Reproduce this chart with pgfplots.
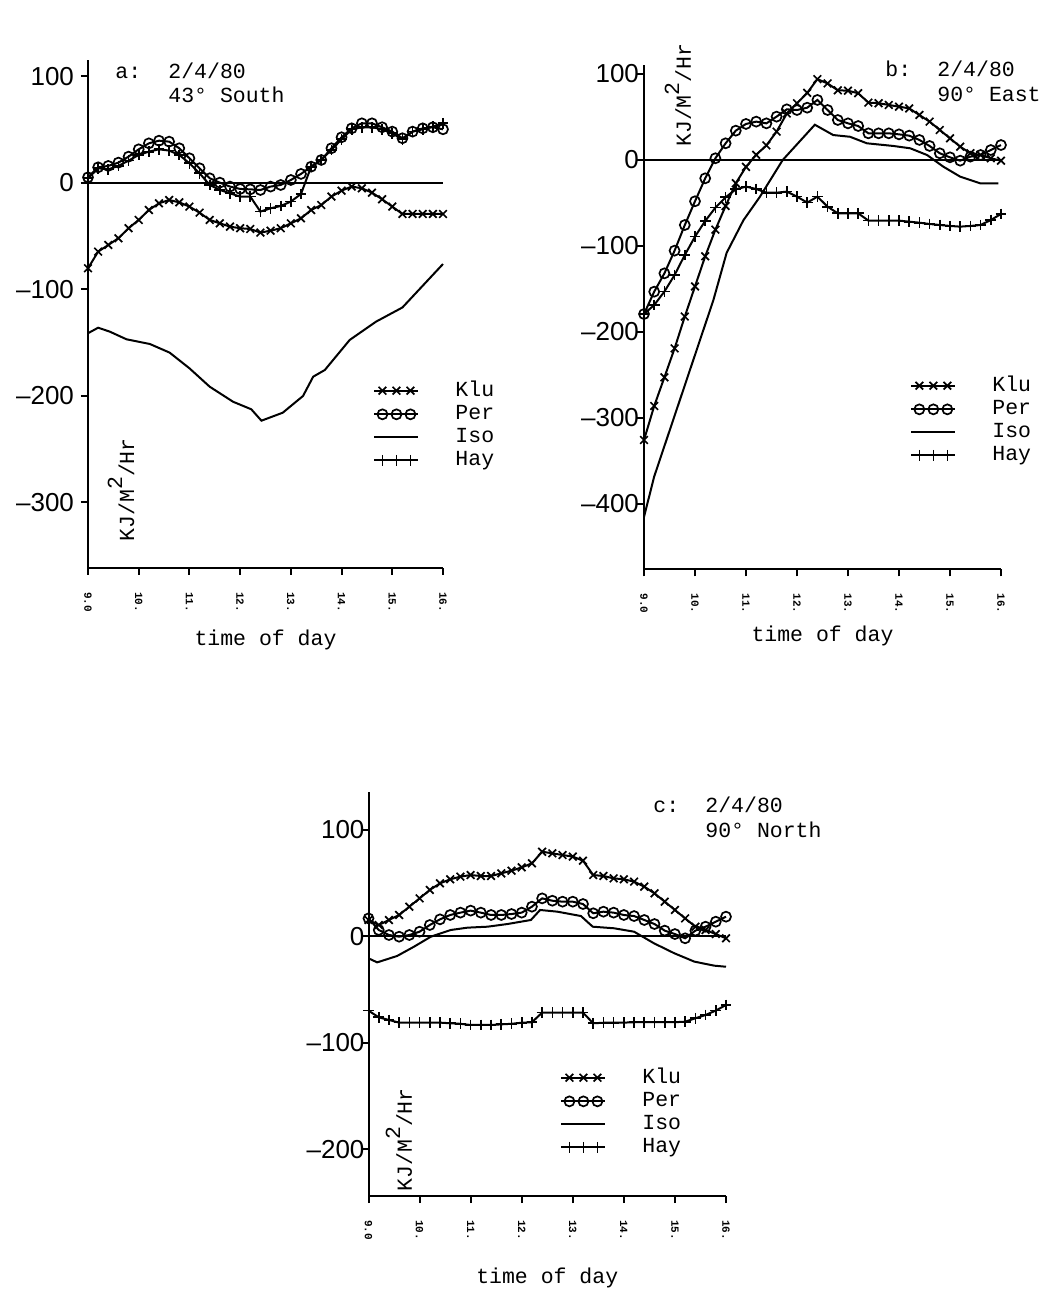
\documentclass[border=0pt]{standalone}
\usepackage{pgfplots}
\pgfplotsset{compat=1.18}
\usepackage{pgfplotstable}
\usepackage{fontspec}
\setmainfont{Liberation Mono}
\newfontfamily\sansf{Liberation Sans}
\newfontfamily\monof{Liberation Mono}

\pgfplotstableread{
t klu per hay
9.0 -80.1 5.3 4.4
9.2 -64.5 14.7 13.8
9.4 -58.2 16.0 12.8
9.6 -51.9 19.1 16.0
9.8 -42.5 24.7 21.0
10.0 -34.7 31.6 26.3
10.2 -25.4 37.2 29.4
10.4 -19.1 39.7 31.6
10.6 -16.0 38.8 30.4
10.8 -18.2 32.6 26.3
11.0 -22.2 23.2 18.5
11.2 -27.9 13.8 9.1
11.4 -34.7 4.4 -1.9
11.6 -37.9 0.3 -6.6
11.8 -41.0 -3.4 -9.7
12.0 -42.5 -5.6 -12.8
12.2 -43.2 -6.0 -12.8
12.4 -46.6 -6.6 -26.9
12.6 -44.8 -3.4 -23.8
12.8 -42.5 -1.9 -21.6
13.0 -37.9 2.8 -17.5
13.2 -33.2 8.5 -10.3
13.4 -25.4 15.3 15.3
13.6 -20.7 21.6 21.6
13.8 -12.8 32.6 31.0
14.0 -7.2 42.9 41.0
14.2 -3.4 51.3 50.4
14.4 -5.0 56.0 52.3
14.6 -9.1 56.0 52.3
14.8 -15.3 52.3 50.4
15.0 -22.2 48.2 46.6
15.2 -29.1 42.0 41.0
15.4 -29.1 48.2 48.2
15.6 -29.1 51.3 50.4
15.8 -29.1 52.3 52.9
16.0 -29.1 50.4 56.0
}\tableA

\pgfplotstableread{
t klu per hay
9.0 -325.6 -179.1 -179.1
9.2 -286.0 -153.1 -168.6
9.4 -252.7 -131.8 -153.0
9.6 -219.0 -105.4 -133.7
9.8 -182.0 -75.6 -110.5
10.0 -147.0 -48.0 -89.1
10.2 -112.0 -21.3 -70.9
10.4 -81.0 2.0 -55.4
10.6 -53.5 19.4 -43.4
10.8 -27.0 34.1 -34.1
11.0 -8.0 41.9 -31.0
11.2 6.0 44.6 -33.7
11.4 17.0 42.6 -38.0
11.6 33.0 50.4 -38.0
11.8 54.0 58.9 -36.8
12.0 66.0 58.1 -42.6
12.2 78.0 60.8 -49.6
12.4 94.0 69.8 -42.6
12.6 89.0 58.1 -54.3
12.8 81.0 46.5 -62.0
13.0 80.6 42.6 -62.0
13.2 77.6 39.5 -62.0
13.4 66.7 31.0 -70.5
13.6 66.0 31.0 -70.5
13.8 64.0 31.0 -70.5
14.0 62.0 29.8 -70.5
14.2 60.0 28.3 -71.7
14.4 52.3 23.3 -72.9
14.6 44.6 16.3 -74.4
14.8 34.9 7.8 -75.6
15.0 25.2 3.1 -76.7
15.2 15.5 -0.8 -77.5
15.4 7.8 3.9 -76.7
15.6 5.8 5.8 -75.6
15.8 2.0 11.6 -69.8
16.0 -0.8 17.4 -62.8
}\tableB

\pgfplotstableread{
t klu per hay
9.0 15.5 17.0 -69.6
9.2 10.8 6.1 -75.9
9.4 15.5 1.4 -78.4
9.6 20.2 -0.2 -80.9
9.8 28.0 1.4 -80.9
10.0 35.8 4.5 -80.9
10.2 43.7 10.8 -80.9
10.4 49.9 16.1 -80.9
10.6 53.7 20.2 -81.5
10.8 56.2 22.4 -82.0
11.0 57.7 24.3 -83.1
11.2 56.8 22.4 -83.1
11.4 56.8 20.2 -83.1
11.6 59.3 20.2 -82.5
11.8 61.8 21.1 -82.0
12.0 64.9 22.4 -81.0
12.2 68.7 28.0 -80.5
12.4 79.6 35.8 -71.5
12.6 78.1 33.6 -71.5
12.8 76.5 32.7 -71.5
13.0 75.0 32.7 -71.5
13.2 71.2 30.5 -71.5
13.4 57.7 21.8 -81.5
13.6 56.8 23.3 -81.0
13.8 54.6 22.4 -81.0
14.0 53.7 20.2 -80.9
14.2 51.5 19.2 -80.5
14.4 46.8 15.5 -80.5
14.6 40.5 11.7 -80.5
14.8 32.7 5.5 -80.5
15.0 24.9 2.3 -80.5
15.2 17.0 -1.7 -80.0
15.4 9.2 5.5 -76.8
15.6 6.1 9.2 -73.7
15.8 2.3 13.9 -69.6
16.0 -1.7 18.6 -64.3
}\tableC

\pgfplotsset{
  myaxis/.style={
    scale only axis,
    clip=false,
    axis lines*=left,
    axis line style={-, line width=1pt, black},
    xmin=9, xmax=16,
    xtick={9,10,11,12,13,14,15,16},
    xticklabels={9.0,10.,11.,12.,13.,14.,15.,16.},
    tick align=outside,
    major tick length=3.5pt,
    tick style={line width=1pt, black},
    xticklabel style={rotate=-90, anchor=west, font=\monof\bfseries\fontsize{5.5}{5.5}\selectfont},
    xticklabel shift=5pt,
    yticklabel style={font=\sansf\fontsize{13}{13}\selectfont},
    xlabel={time of day},
    ylabel={KJ/M\raisebox{0.55em}{2}/Hr},
    label style={font=\monof\fontsize{10.75}{12}\selectfont},
    legend style={draw=none, fill=none, inner sep=0pt, row sep=2.9pt, column sep=18pt,
      font=\monof\fontsize{10.75}{12}\selectfont, cells={anchor=west}, nodes={inner sep=0pt}},
    legend image code/.code={
      \draw[##1,mark=none] (0pt,0pt) -- (22pt,0pt);
      \draw[##1] plot[only marks] coordinates {(4pt,0pt) (11pt,0pt) (18pt,0pt)};
    },
  },
  zero/.style={black, line width=1pt, no marks},
  klu/.style={black, line width=1pt, mark=x, mark size=2.7pt, mark options={solid, line width=0.85pt}},
  per/.style={black, line width=1pt, mark=o, mark size=2.5pt, mark options={solid, line width=0.85pt}},
  iso/.style={black, line width=1pt, no marks},
  hay/.style={black, line width=1pt, mark=+, mark size=2.7pt, mark options={solid, line width=0.85pt}},
}

\begin{document}
\begin{tikzpicture}
\path[use as bounding box] (0,0) rectangle (531pt,650.5pt);

% ---------------- a ----------------
\begin{axis}[myaxis,
  at={(44pt,366.5pt)}, anchor=south west,
  width=177.5pt, height=253.75pt,
  ymin=-361.5, ymax=115,
  ytick={-300,-200,-100,0,100},
  yticklabels={–300,–200,–100,0,100},
  ylabel style={at={(axis description cs:0.093,0.154)}, anchor=center},
  xlabel style={at={(axis description cs:0.5,0)}, anchor=base, yshift=-39pt},
  legend style={at={(axis description cs:0.803,0.3685)}, anchor=north west},
]
\addplot[zero, forget plot] coordinates {(9,0) (16,0)};
\addplot[klu] table[x=t, y=klu] {\tableA};
\addplot[per] table[x=t, y=per] {\tableA};
\addplot[iso] coordinates {(9.0,-141.1) (9.2,-135.9) (9.43,-139.6) (9.76,-146.8) (10.22,-151.2) (10.61,-159.3) (11.0,-174.0) (11.4,-191.3) (11.86,-205.4) (12.22,-212.5) (12.42,-223.2) (12.84,-215.7) (13.24,-200.0) (13.44,-181.9) (13.67,-175.6) (14.16,-147.4) (14.68,-130.2) (15.2,-116.9) (16.0,-76.1)};
\addplot[hay] table[x=t, y=hay] {\tableA};
\legend{\vphantom{Hy}Klu,\vphantom{Hy}Per,\vphantom{Hy}Iso,\vphantom{Hy}Hay}
\end{axis}

% ---------------- b ----------------
\begin{axis}[myaxis,
  at={(322pt,365.8pt)}, anchor=south west,
  width=178.5pt, height=252pt,
  ymin=-476, ymax=110,
  ytick={-400,-300,-200,-100,0,100},
  yticklabels={–400,–300,–200,–100,0,100},
  yticklabel style={xshift=4.5pt},
  ylabel style={at={(axis description cs:0.095,0.941)}, anchor=center},
  xlabel style={at={(axis description cs:0.5,0)}, anchor=base, yshift=-36pt},
  legend style={at={(axis description cs:0.745,0.3837)}, anchor=north west},
]
\addplot[zero, forget plot] coordinates {(9,0) (16,0)};
\addplot[klu] table[x=t, y=klu] {\tableB};
\addplot[per] table[x=t, y=per] {\tableB};
\addplot[iso] coordinates {(9.0,-415) (9.2,-368) (10.36,-163) (10.62,-108) (10.95,-70) (11.27,-43) (11.72,0) (12.35,41) (12.71,29) (13.04,27) (13.37,19.4) (13.89,16.3) (14.22,13.6) (14.55,5.8) (14.87,-7.8) (15.2,-19.4) (15.59,-27.1) (15.95,-27.1)};
\addplot[hay] table[x=t, y=hay] {\tableB};
\legend{\vphantom{Hy}Klu,\vphantom{Hy}Per,\vphantom{Hy}Iso,\vphantom{Hy}Hay}
\end{axis}

% ---------------- c ----------------
\begin{axis}[myaxis,
  at={(184.25pt,52.5pt)}, anchor=south west,
  width=178.75pt, height=202pt,
  ymin=-243.7, ymax=135.7,
  ytick={-200,-100,0,100},
  yticklabels={–200,–100,0,100},
  yticklabel style={xshift=5pt},
  ylabel style={at={(axis description cs:0.085,0.139)}, anchor=center},
  xlabel style={at={(axis description cs:0.5,0)}, anchor=base, yshift=-43.5pt},
  legend style={at={(axis description cs:0.5357,0.3168)}, anchor=north west},
]
\addplot[zero, forget plot] coordinates {(9,0) (16,0)};
\addplot[klu] table[x=t, y=klu] {\tableC};
\addplot[per] table[x=t, y=per] {\tableC};
\addplot[iso] coordinates {(9.0,-20.5) (9.17,-24.3) (9.56,-18.3) (9.89,-9.6) (10.22,-0.2) (10.61,6.1) (10.94,8.3) (11.33,9.2) (11.72,11.7) (12.18,15.5) (12.36,24.9) (12.7,23.3) (13.16,19.2) (13.39,9.2) (13.81,7.7) (14.2,4.5) (14.59,-6.4) (14.99,-15.8) (15.38,-23.6) (15.77,-27.4) (16.0,-28.4)};
\addplot[hay] table[x=t, y=hay] {\tableC};
\legend{\vphantom{Hy}Klu,\vphantom{Hy}Per,\vphantom{Hy}Iso,\vphantom{Hy}Hay}
\end{axis}

% ---------------- annotations ----------------
\begin{scope}[every node/.style={font=\monof\fontsize{10.75}{12}\selectfont, inner sep=0pt, anchor=base west}]
\node at (57.5pt,611pt) {a:};
\node at (84pt,611pt) {2/4/80};
\node at (84pt,599pt) {43° South};
\node at (442.5pt,612pt) {b:};
\node at (468.5pt,612pt) {2/4/80};
\node at (468.5pt,599.5pt) {90° East};
\node at (326.5pt,244pt) {c:};
\node at (352.5pt,244pt) {2/4/80};
\node at (352.5pt,231.5pt) {90° North};
\end{scope}
\end{tikzpicture}
\end{document}
